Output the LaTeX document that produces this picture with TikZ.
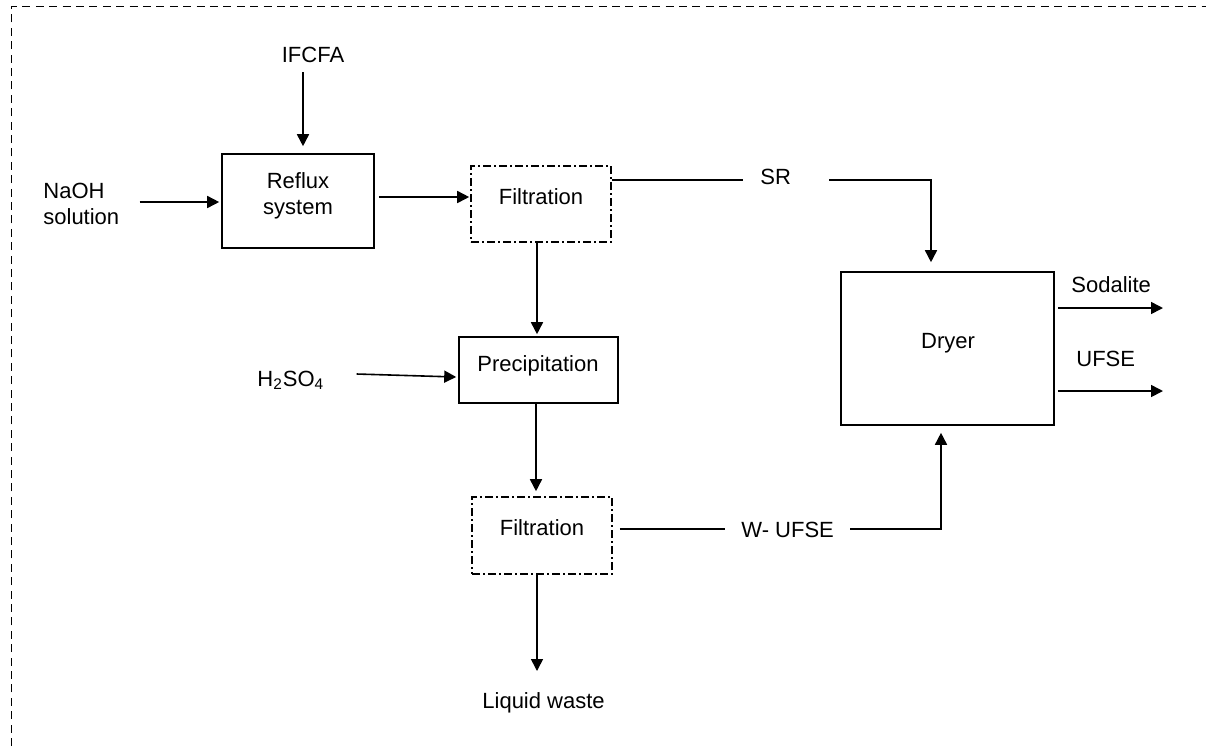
\documentclass[tikz,border=0pt]{standalone}
\usepackage{fontspec}
\setmainfont{Liberation Sans}
\usetikzlibrary{arrows.meta,calc}
\begin{document}
\begin{tikzpicture}[x=0.5pt,y=-0.5pt,
  every node/.style={font=\fontsize{11pt}{13pt}\selectfont, inner sep=0pt},
  unit/.style={draw, line width=0.8pt},
  filter/.style={unit, dash pattern=on 4pt off 1.6pt on 0.8pt off 1.6pt},
  flow/.style={line width=0.8pt, -{Triangle[length=6pt,width=6pt]}},
  link/.style={line width=0.8pt},
  frame/.style={line width=0.65pt, dash pattern=on 4pt off 2.7pt}]
\useasboundingbox (0,0) rectangle (1206,746);

% outer dashed frame
\draw[frame] (11.5,746) -- (11.5,6.5) -- (1206,6.5);

% process units
\node[unit, minimum width=76pt, minimum height=47pt] (reflux) at (298,201) {};
\node[align=center] (refluxtxt) at (298,196.3) {Reflux\\system};
\node[filter, minimum width=70pt, minimum height=38pt] (filt1) at (541,204) {};
\node[anchor=base] (filt1txt) at (541,204) {Filtration};
\node[unit, minimum width=79.5pt, minimum height=33pt] (precip) at (538.5,370) {};
\node[anchor=base] (preciptxt) at (538,371) {Precipitation};
\node[filter, minimum width=70pt, minimum height=38.5pt] (filt2) at (542,535.5) {};
\node[anchor=base] (filt2txt) at (542,535) {Filtration};
\node[unit, minimum width=106.5pt, minimum height=76.5pt] (dryer) at (947.5,348.5) {};
\node[anchor=base] (dryertxt) at (948,348) {Dryer};

% stream labels
\node[anchor=base] (ifcfa) at (313,62) {IFCFA};
\node[align=left, anchor=west] (naoh) at (43,204) {NaOH\\solution};
\node[anchor=base west] (h2so4) at (257,386) {H\textsubscript{2}SO\textsubscript{4}};
\node[anchor=base west] (sr) at (760,184) {SR};
\node[anchor=base west] (wufse) at (741,537) {W- UFSE};
\node[anchor=base west] (sodalite) at (1071,292) {Sodalite};
\node[anchor=base west] (ufse) at (1076,366) {UFSE};
\node[anchor=base west] (waste) at (482,708) {Liquid waste};
\coordinate (sodout) at (1163,308);
\coordinate (ufseout) at (1163,391);

% streams
\draw[flow] ($(ifcfa.base)+(-10,10)$) -- ($(reflux.north)+(5,-7)$);
\draw[flow] ($(naoh.east |- reflux.west)+(20,1)$) -- ($(reflux.west)+(-2,1)$);
\draw[flow] ($(reflux.east)+(4,-4)$) -- ($(filt1.west)+(-1,-7)$);
\draw[link] ($(filt1.east)+(0,-24)$) -- ($(sr.base west)+(-17,-4)$);
\draw[flow] ($(sr.base east)+(38,-4)$) -| ($(dryer.north)+(-16.5,-9)$);
\draw[flow] ($(filt1.south)+(-4,0)$) -- ($(precip.north)+(-1.5,-2)$);
\draw[flow] ($(h2so4.base east)+(32,-12)$) -- ($(precip.west)+(-2,7)$);
\draw[flow] ($(precip.south)+(-2.5,0)$) -- ($(filt2.north)+(-6,-5)$);
\draw[link] ($(filt2.east)+(7,-6.5)$) -- ($(wufse.base west)+(-16,-8)$);
\draw[flow] ($(wufse.base east)+(16,-8)$) -| ($(dryer.south)+(-6.5,7)$);
\draw[flow] ($(filt2.south)+(-5,0)$) -- ($(waste.base west)+(55,-37)$);
\draw[flow] ($(dryer.east |- sodout)+(3,0)$) -- (sodout);
\draw[flow] ($(dryer.east |- ufseout)+(3,0)$) -- (ufseout);
\end{tikzpicture}
\end{document}
